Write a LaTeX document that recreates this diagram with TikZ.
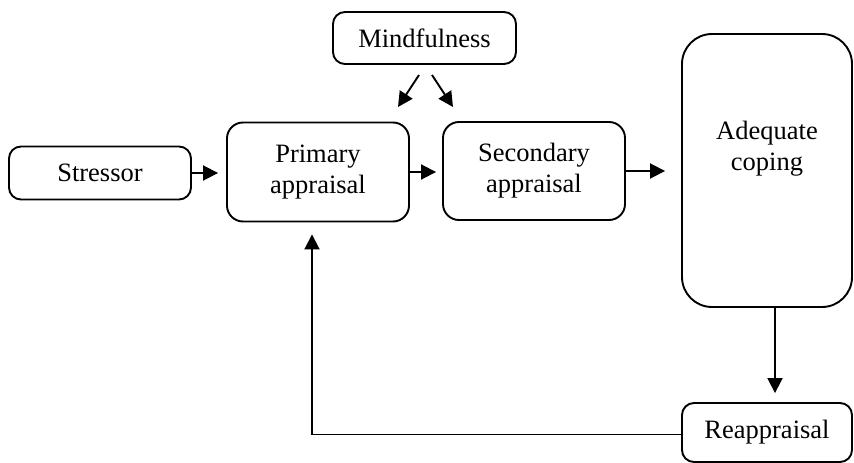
\documentclass[tikz,border=0pt]{standalone}
\usepackage{fontspec}
\setmainfont{Liberation Serif}
\usetikzlibrary{arrows.meta}
\begin{document}
\begin{tikzpicture}[x=1pt,y=-1pt,
  box/.style={draw, line width=1.9pt, rounded corners=12pt, align=center, inner sep=0pt,
    font=\fontsize{26.5}{31}\selectfont},
  arr/.style={line width=1.9pt, -{Triangle[length=15pt,width=15pt]}}]
\useasboundingbox (0,0) rectangle (854,463);
\node[box, minimum width=182pt, minimum height=53pt] (stress) at (100,173) {Stressor};
\node[box, minimum width=182pt, minimum height=99pt, rounded corners=16pt] (prim) at (318,172) {Primary\\appraisal};
\node[box, minimum width=182pt, minimum height=98pt, rounded corners=16pt] (sec) at (534,171) {Secondary\\appraisal};
\node[box, minimum width=183pt, minimum height=52pt] (mind) at (424.5,38) {Mindfulness};
\node[box, minimum width=170pt, minimum height=273pt, rounded corners=30pt,
  label={[align=center, font=\fontsize{26.5}{31}\selectfont, yshift=22pt]center:Adequate\\coping}] (cope) at (767,170.5) {};
\node[box, minimum width=170pt, minimum height=59pt] (reap) at (767,432.5) {Reappraisal};
\coordinate (m1s) at (419,75);
\coordinate (m1e) at (398,107);
\coordinate (m2s) at (432,75);
\coordinate (m2e) at (453,107);
\draw[arr, shorten >=8pt] (stress.east) -- (stress.east -| prim.west);
\draw[arr, shorten >=6pt] (prim.east) -- (prim.east -| sec.west);
\draw[arr, shorten >=16pt] (sec.east) -- (sec.east -| cope.west);
\draw[arr] (m1s) -- (m1e);
\draw[arr] (m2s) -- (m2e);
\draw[arr, shorten >=9pt] ([xshift=8pt]cope.south) -- ([xshift=8pt]cope.south |- reap.north);
\draw[arr, shorten >=12pt] ([yshift=-2pt]reap.west) -| ([xshift=-6pt]prim.south);
\end{tikzpicture}
\end{document}
